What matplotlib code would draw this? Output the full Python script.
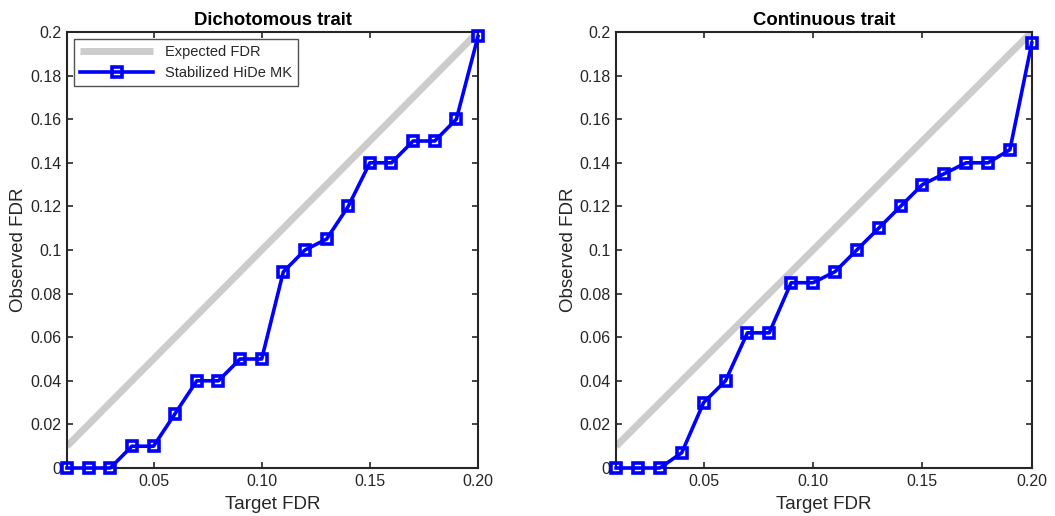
import numpy as np
import matplotlib
matplotlib.use('Agg')
import matplotlib.pyplot as plt

plt.rcParams['font.family'] = ['Liberation Sans', 'DejaVu Sans']

# data
target_fdr = [0.01, 0.02, 0.03, 0.04, 0.05, 0.06, 0.07, 0.08, 0.09, 0.10,
              0.11, 0.12, 0.13, 0.14, 0.15, 0.16, 0.17, 0.18, 0.19, 0.20]
dichotomous_fdr = [0, 0, 0, 0.01, 0.01, 0.025, 0.04, 0.04, 0.05, 0.05,
                   0.09, 0.10, 0.105, 0.12, 0.14, 0.14, 0.15, 0.15, 0.16, 0.198]
continuous_fdr = [0, 0, 0, 0.007, 0.03, 0.04, 0.062, 0.062, 0.085, 0.085,
                  0.09, 0.10, 0.11, 0.12, 0.13, 0.135, 0.14, 0.14, 0.146, 0.195]
titles = ['Dichotomous trait', 'Continuous trait']
xticks = [0.05, 0.10, 0.15, 0.20]
xtick_labels = ['0.05', '0.10', '0.15', '0.20']
yticks = [0, 0.02, 0.04, 0.06, 0.08, 0.1, 0.12, 0.14, 0.16, 0.18, 0.2]
ytick_labels = ['0', '0.02', '0.04', '0.06', '0.08', '0.1', '0.12', '0.14', '0.16', '0.18', '0.2']

text_col = '#262626'

fig = plt.figure(figsize=(10.55, 5.16), dpi=100)
ax1 = fig.add_axes([0.0635, 0.093, 0.3896, 0.845])
ax2 = fig.add_axes([0.584, 0.093, 0.394, 0.845])

for ax, title, obs in zip([ax1, ax2], titles, [dichotomous_fdr, continuous_fdr]):
    ax.plot(target_fdr, target_fdr, color='#cccccc', lw=5, label='Expected FDR',
            solid_capstyle='butt', zorder=2)
    ax.plot(target_fdr, obs, color='#0000ff', lw=2.6, marker='s', ms=7,
            mfc='none', mec='#0000ff', mew=2.6, label='Stabilized HiDe MK',
            clip_on=False, zorder=3)
    ax.set_xlim(0.01, 0.20)
    ax.set_ylim(0, 0.2)
    ax.set_xticks(xticks)
    ax.set_xticklabels(xtick_labels)
    ax.set_yticks(yticks)
    ax.set_yticklabels(ytick_labels)
    ax.tick_params(direction='in', top=True, right=True, length=4, width=1.2,
                   labelsize=11.5, colors=text_col, pad=4)
    for sp in ax.spines.values():
        sp.set_linewidth(1.5)
        sp.set_color(text_col)
    ax.set_title(title, fontsize=13.3, fontweight='bold', pad=5)
    ax.set_xlabel('Target FDR', fontsize=13.5, color=text_col, labelpad=5)
    ax.set_ylabel('Observed FDR', fontsize=13.5, color=text_col, labelpad=2)

leg = ax1.legend(loc='upper left', fontsize=10.5, frameon=True, fancybox=False,
                 handlelength=5, borderaxespad=0.5, labelcolor=text_col)
leg.get_frame().set_edgecolor(text_col)
leg.get_frame().set_linewidth(1.0)

plt.savefig('out.png', dpi=100)
